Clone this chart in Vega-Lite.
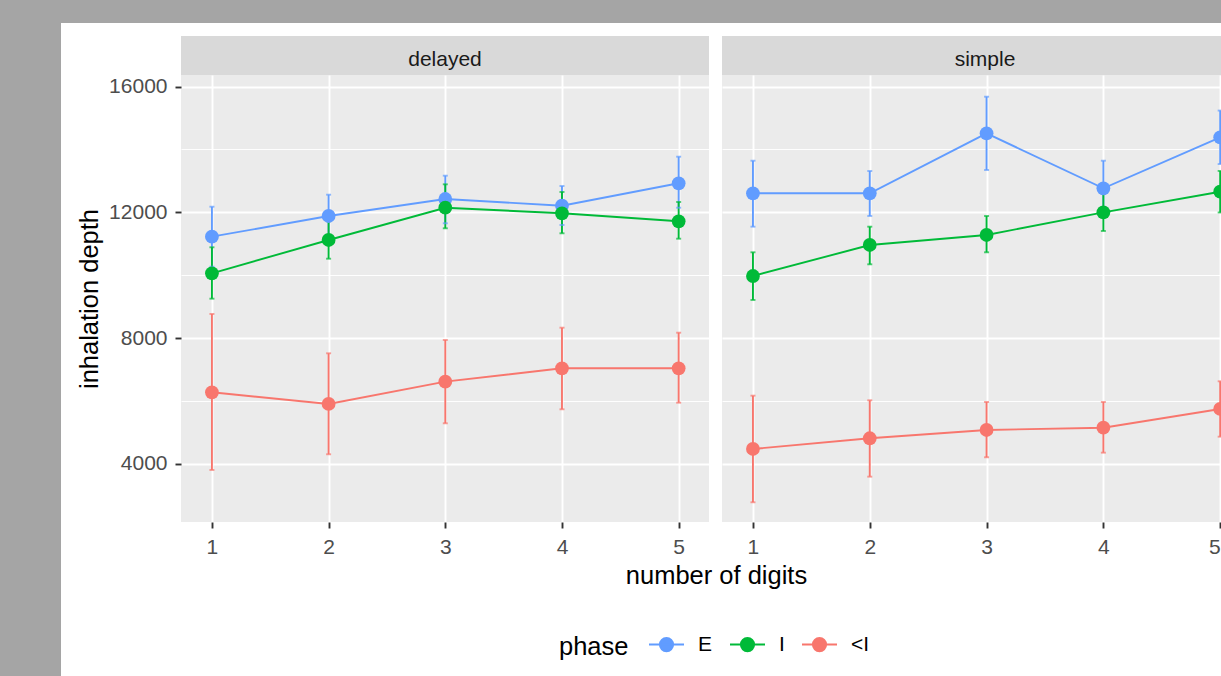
{
  "$schema": "https://vega.github.io/schema/vega-lite/v6.json",
  "background": "#ffffff",
  "padding": 0,
  "bounds": "flush",
  "spacing": 0,
  "datasets": {
    "depth": [
      {"task": "delayed", "phase": "E", "digits": 1, "mean": 11226, "lo": 10273, "hi": 12179},
      {"task": "delayed", "phase": "E", "digits": 2, "mean": 11884, "lo": 11207, "hi": 12561},
      {"task": "delayed", "phase": "E", "digits": 3, "mean": 12424, "lo": 11652, "hi": 13165},
      {"task": "delayed", "phase": "E", "digits": 4, "mean": 12211, "lo": 11598, "hi": 12837},
      {"task": "delayed", "phase": "E", "digits": 5, "mean": 12923, "lo": 12147, "hi": 13769},
      {"task": "delayed", "phase": "I", "digits": 1, "mean": 10062, "lo": 9255, "hi": 10889},
      {"task": "delayed", "phase": "I", "digits": 2, "mean": 11121, "lo": 10526, "hi": 11716},
      {"task": "delayed", "phase": "I", "digits": 3, "mean": 12147, "lo": 11493, "hi": 12891},
      {"task": "delayed", "phase": "I", "digits": 4, "mean": 11969, "lo": 11334, "hi": 12647},
      {"task": "delayed", "phase": "I", "digits": 5, "mean": 11715, "lo": 11162, "hi": 12329},
      {"task": "delayed", "phase": "<I", "digits": 1, "mean": 6280, "lo": 3810, "hi": 8769},
      {"task": "delayed", "phase": "<I", "digits": 2, "mean": 5908, "lo": 4309, "hi": 7519},
      {"task": "delayed", "phase": "<I", "digits": 3, "mean": 6617, "lo": 5294, "hi": 7942},
      {"task": "delayed", "phase": "<I", "digits": 4, "mean": 7043, "lo": 5739, "hi": 8333},
      {"task": "delayed", "phase": "<I", "digits": 5, "mean": 7043, "lo": 5949, "hi": 8174},
      {"task": "simple", "phase": "E", "digits": 1, "mean": 12605, "lo": 11544, "hi": 13641},
      {"task": "simple", "phase": "E", "digits": 2, "mean": 12605, "lo": 11884, "hi": 13314},
      {"task": "simple", "phase": "E", "digits": 3, "mean": 14512, "lo": 13346, "hi": 15676},
      {"task": "simple", "phase": "E", "digits": 4, "mean": 12764, "lo": 11887, "hi": 13641},
      {"task": "simple", "phase": "E", "digits": 5, "mean": 14385, "lo": 13535, "hi": 15235},
      {"task": "simple", "phase": "I", "digits": 1, "mean": 9976, "lo": 9214, "hi": 10730},
      {"task": "simple", "phase": "I", "digits": 2, "mean": 10962, "lo": 10348, "hi": 11544},
      {"task": "simple", "phase": "I", "digits": 3, "mean": 11280, "lo": 10730, "hi": 11884},
      {"task": "simple", "phase": "I", "digits": 4, "mean": 12001, "lo": 11407, "hi": 12595},
      {"task": "simple", "phase": "I", "digits": 5, "mean": 12656, "lo": 11996, "hi": 13316},
      {"task": "simple", "phase": "<I", "digits": 1, "mean": 4477, "lo": 2783, "hi": 6172},
      {"task": "simple", "phase": "<I", "digits": 2, "mean": 4818, "lo": 3597, "hi": 6025},
      {"task": "simple", "phase": "<I", "digits": 3, "mean": 5081, "lo": 4214, "hi": 5971},
      {"task": "simple", "phase": "<I", "digits": 4, "mean": 5154, "lo": 4360, "hi": 5971},
      {"task": "simple", "phase": "<I", "digits": 5, "mean": 5749, "lo": 4868, "hi": 6629}
    ]
  },
  "config": {
    "font": "Liberation Sans",
    "view": {"stroke": null},
    "axis": {
      "labelFont": "Liberation Sans",
      "labelFontSize": 21,
      "labelColor": "#4d4d4d",
      "tickColor": "#333333",
      "tickSize": 6,
      "tickWidth": 1.9,
      "labelPadding": 8,
      "domain": false,
      "gridColor": "#ffffff",
      "gridOpacity": 1,
      "titleFont": "Liberation Sans",
      "titleFontSize": 25.5,
      "titleFontWeight": "normal",
      "titleColor": "#000000"
    }
  },
  "vconcat": [
    {
      "width": 1221,
      "height": 23,
      "view": {"fill": "#a5a5a5", "stroke": null},
      "data": {"values": [{}]},
      "mark": {"type": "point", "opacity": 0},
      "encoding": {}
    },
    {
      "bounds": "flush",
      "spacing": 120,
      "hconcat": [
        {
          "width": 61,
          "height": 653,
          "view": {"fill": "#a5a5a5", "stroke": null},
          "data": {"values": [{}]},
          "mark": {"type": "point", "opacity": 0},
          "encoding": {}
        },
        {
          "spacing": 0,
          "vconcat": [
            {
              "width": 1,
              "height": 13,
              "data": {"values": [{}]},
              "mark": {"type": "point", "opacity": 0},
              "encoding": {}
            },
            {
              "bounds": "flush",
              "spacing": 13,
              "hconcat": [
                {
                  "width": 528,
                  "height": 39,
                  "view": {"fill": "#d9d9d9", "stroke": null},
                  "data": {"values": [{"task": "delayed"}]},
                  "mark": {"type": "text", "font": "Liberation Sans", "fontSize": 21, "color": "#1a1a1a", "dy": 4},
                  "encoding": {"text": {"field": "task", "type": "nominal"}}
                },
                {
                  "width": 499,
                  "height": 39,
                  "view": {"fill": "#d9d9d9", "stroke": null},
                  "data": {"values": [{"task": "simple"}]},
                  "mark": {"type": "text", "font": "Liberation Sans", "fontSize": 21, "color": "#1a1a1a", "dx": 13.5, "dy": 4},
                  "encoding": {"text": {"field": "task", "type": "nominal"}}
                }
              ]
            },
            {
              "bounds": "flush",
              "spacing": 13,
              "hconcat": [
                {
                  "width": 528,
                  "height": 447,
                  "view": {"fill": "#ebebeb", "stroke": null},
                  "data": {"name": "depth"},
                  "transform": [{"filter": "datum.task === 'delayed'"}],
                  "encoding": {
                    "x": {
                      "field": "digits", "type": "quantitative", "title": "number of digits",
                      "scale": {"domain": [0.735, 5.26], "nice": false, "zero": false},
                      "axis": {
                        "values": [1, 1.5, 2, 2.5, 3, 3.5, 4, 4.5, 5],
                        "format": "d",
                        "labelExpr": "datum.value % 1 === 0 ? datum.label : ''",
                        "tickColor": {"condition": {"test": "datum.value % 1 === 0", "value": "#333333"}, "value": "transparent"},
                        "gridWidth": {"condition": {"test": "datum.value % 1 === 0", "value": 1.9}, "value": 0.95},
                        "titleX": 535,
                        "titlePadding": 6
                      }
                    },
                    "xOffset": {"field": "phase", "type": "nominal", "scale": {"type": "point", "domain": ["<I", "I", "E"], "range": [-3.8, 3.8], "padding": 0}},
                    "color": {
                      "field": "phase", "type": "nominal",
                      "scale": {"domain": ["E", "I", "<I"], "range": ["#619CFF", "#00BA38", "#F8766D"]},
                      "legend": {
                        "orient": "none", "legendX": 559, "legendY": 626, "direction": "horizontal",
                        "title": "phase", "titleOrient": "left", "titleFont": "Liberation Sans", "titleFontSize": 25.5, "titleFontWeight": "normal", "titleColor": "#000000", "titlePadding": 19, "titleBaseline": "alphabetic", "titleAnchor": "end",
                        "labelFont": "Liberation Sans", "labelFontSize": 21, "labelColor": "#000000", "labelOffset": 13, "columnPadding": 13, "padding": 0,
                        "symbolType": "M-1,0H1M0.38,0A0.38,0.38,0,1,1,-0.38,0A0.38,0.38,0,1,1,0.38,0Z",
                        "symbolSize": 1225, "symbolStrokeWidth": 1.9,
                        "encode": {
                          "symbols": {"update": {"fill": {"scale": "color", "field": "value"}, "stroke": {"scale": "color", "field": "value"}, "opacity": {"value": 1}}}
                        }
                      }
                    }
                  },
                  "layer": [
                    {
                      "mark": {"type": "rule", "strokeWidth": 1.9},
                      "encoding": {
                        "y": {"field": "lo", "type": "quantitative", "title": "inhalation depth", "scale": {"domain": [2156, 16366], "nice": false, "zero": false},
                          "axis": {"values": [4000, 6000, 8000, 10000, 12000, 14000, 16000], "format": "d", "labelExpr": "datum.value % 4000 === 0 ? datum.label : ''", "tickColor": {"condition": {"test": "datum.value % 4000 === 0", "value": "#333333"}, "value": "transparent"}, "gridWidth": {"condition": {"test": "datum.value % 4000 === 0", "value": 1.9}, "value": 0.95}, "titlePadding": 6}},
                        "y2": {"field": "hi"}
                      }
                    },
                    {
                      "mark": {"type": "tick", "orient": "horizontal", "size": 5, "thickness": 1.9},
                      "encoding": {
                        "y": {"field": "lo", "type": "quantitative", "title": "inhalation depth", "scale": {"domain": [2156, 16366], "nice": false, "zero": false},
                          "axis": {"values": [4000, 6000, 8000, 10000, 12000, 14000, 16000], "format": "d", "labelExpr": "datum.value % 4000 === 0 ? datum.label : ''", "tickColor": {"condition": {"test": "datum.value % 4000 === 0", "value": "#333333"}, "value": "transparent"}, "gridWidth": {"condition": {"test": "datum.value % 4000 === 0", "value": 1.9}, "value": 0.95}, "titlePadding": 6}}
                      }
                    },
                    {
                      "mark": {"type": "tick", "orient": "horizontal", "size": 5, "thickness": 1.9},
                      "encoding": {
                        "y": {"field": "hi", "type": "quantitative", "title": "inhalation depth", "scale": {"domain": [2156, 16366], "nice": false, "zero": false},
                          "axis": {"values": [4000, 6000, 8000, 10000, 12000, 14000, 16000], "format": "d", "labelExpr": "datum.value % 4000 === 0 ? datum.label : ''", "tickColor": {"condition": {"test": "datum.value % 4000 === 0", "value": "#333333"}, "value": "transparent"}, "gridWidth": {"condition": {"test": "datum.value % 4000 === 0", "value": 1.9}, "value": 0.95}, "titlePadding": 6}}
                      }
                    },
                    {
                      "mark": {"type": "line", "strokeWidth": 1.9},
                      "encoding": {
                        "y": {"field": "mean", "type": "quantitative", "title": "inhalation depth", "scale": {"domain": [2156, 16366], "nice": false, "zero": false},
                          "axis": {"values": [4000, 6000, 8000, 10000, 12000, 14000, 16000], "format": "d", "labelExpr": "datum.value % 4000 === 0 ? datum.label : ''", "tickColor": {"condition": {"test": "datum.value % 4000 === 0", "value": "#333333"}, "value": "transparent"}, "gridWidth": {"condition": {"test": "datum.value % 4000 === 0", "value": 1.9}, "value": 0.95}, "titlePadding": 6}}
                      }
                    },
                    {
                      "mark": {"type": "circle", "size": 190, "opacity": 1},
                      "encoding": {
                        "y": {"field": "mean", "type": "quantitative", "title": "inhalation depth", "scale": {"domain": [2156, 16366], "nice": false, "zero": false},
                          "axis": {"values": [4000, 6000, 8000, 10000, 12000, 14000, 16000], "format": "d", "labelExpr": "datum.value % 4000 === 0 ? datum.label : ''", "tickColor": {"condition": {"test": "datum.value % 4000 === 0", "value": "#333333"}, "value": "transparent"}, "gridWidth": {"condition": {"test": "datum.value % 4000 === 0", "value": 1.9}, "value": 0.95}, "titlePadding": 6}}
                      }
                    }
                  ]
                },
                {
                  "width": 499,
                  "height": 447,
                  "view": {"fill": "#ebebeb", "stroke": null},
                  "data": {"name": "depth"},
                  "transform": [{"filter": "datum.task === 'simple'"}],
                  "encoding": {
                    "x": {
                      "field": "digits", "type": "quantitative", "title": null,
                      "scale": {"domain": [0.735, 5.007], "nice": false, "zero": false},
                      "axis": {
                        "values": [1, 1.5, 2, 2.5, 3, 3.5, 4, 4.5, 5],
                        "format": "d",
                        "labelExpr": "datum.value % 1 === 0 ? datum.label : ''",
                        "tickColor": {"condition": {"test": "datum.value % 1 === 0", "value": "#333333"}, "value": "transparent"},
                        "gridWidth": {"condition": {"test": "datum.value % 1 === 0", "value": 1.9}, "value": 0.95}
                      }
                    },
                    "xOffset": {"field": "phase", "type": "nominal", "scale": {"type": "point", "domain": ["<I", "I", "E"], "range": [-3.8, 3.8], "padding": 0}},
                    "color": {
                      "field": "phase", "type": "nominal",
                      "scale": {"domain": ["E", "I", "<I"], "range": ["#619CFF", "#00BA38", "#F8766D"]},
                      "legend": {
                        "orient": "none", "legendX": 559, "legendY": 626, "direction": "horizontal",
                        "title": "phase", "titleOrient": "left", "titleFont": "Liberation Sans", "titleFontSize": 25.5, "titleFontWeight": "normal", "titleColor": "#000000", "titlePadding": 19, "titleBaseline": "alphabetic", "titleAnchor": "end",
                        "labelFont": "Liberation Sans", "labelFontSize": 21, "labelColor": "#000000", "labelOffset": 13, "columnPadding": 13, "padding": 0,
                        "symbolType": "M-1,0H1M0.38,0A0.38,0.38,0,1,1,-0.38,0A0.38,0.38,0,1,1,0.38,0Z",
                        "symbolSize": 1225, "symbolStrokeWidth": 1.9,
                        "encode": {
                          "symbols": {"update": {"fill": {"scale": "color", "field": "value"}, "stroke": {"scale": "color", "field": "value"}, "opacity": {"value": 1}}}
                        }
                      }
                    }
                  },
                  "layer": [
                    {
                      "mark": {"type": "rule", "strokeWidth": 1.9, "clip": true},
                      "encoding": {
                        "y": {"field": "lo", "type": "quantitative", "title": null, "scale": {"domain": [2156, 16366], "nice": false, "zero": false},
                          "axis": {"values": [4000, 6000, 8000, 10000, 12000, 14000, 16000], "labels": false, "ticks": false, "title": null, "gridWidth": {"condition": {"test": "datum.value % 4000 === 0", "value": 1.9}, "value": 0.95}}},
                        "y2": {"field": "hi"}
                      }
                    },
                    {
                      "mark": {"type": "tick", "orient": "horizontal", "size": 5, "thickness": 1.9, "clip": true},
                      "encoding": {
                        "y": {"field": "lo", "type": "quantitative", "title": null, "scale": {"domain": [2156, 16366], "nice": false, "zero": false},
                          "axis": {"values": [4000, 6000, 8000, 10000, 12000, 14000, 16000], "labels": false, "ticks": false, "title": null, "gridWidth": {"condition": {"test": "datum.value % 4000 === 0", "value": 1.9}, "value": 0.95}}}
                      }
                    },
                    {
                      "mark": {"type": "tick", "orient": "horizontal", "size": 5, "thickness": 1.9, "clip": true},
                      "encoding": {
                        "y": {"field": "hi", "type": "quantitative", "title": null, "scale": {"domain": [2156, 16366], "nice": false, "zero": false},
                          "axis": {"values": [4000, 6000, 8000, 10000, 12000, 14000, 16000], "labels": false, "ticks": false, "title": null, "gridWidth": {"condition": {"test": "datum.value % 4000 === 0", "value": 1.9}, "value": 0.95}}}
                      }
                    },
                    {
                      "mark": {"type": "line", "strokeWidth": 1.9, "clip": true},
                      "encoding": {
                        "y": {"field": "mean", "type": "quantitative", "title": null, "scale": {"domain": [2156, 16366], "nice": false, "zero": false},
                          "axis": {"values": [4000, 6000, 8000, 10000, 12000, 14000, 16000], "labels": false, "ticks": false, "title": null, "gridWidth": {"condition": {"test": "datum.value % 4000 === 0", "value": 1.9}, "value": 0.95}}}
                      }
                    },
                    {
                      "mark": {"type": "circle", "size": 190, "opacity": 1, "clip": true},
                      "encoding": {
                        "y": {"field": "mean", "type": "quantitative", "title": null, "scale": {"domain": [2156, 16366], "nice": false, "zero": false},
                          "axis": {"values": [4000, 6000, 8000, 10000, 12000, 14000, 16000], "labels": false, "ticks": false, "title": null, "gridWidth": {"condition": {"test": "datum.value % 4000 === 0", "value": 1.9}, "value": 0.95}}}
                      }
                    }
                  ]
                }
              ]
            }
          ]
        }
      ]
    }
  ]
}
